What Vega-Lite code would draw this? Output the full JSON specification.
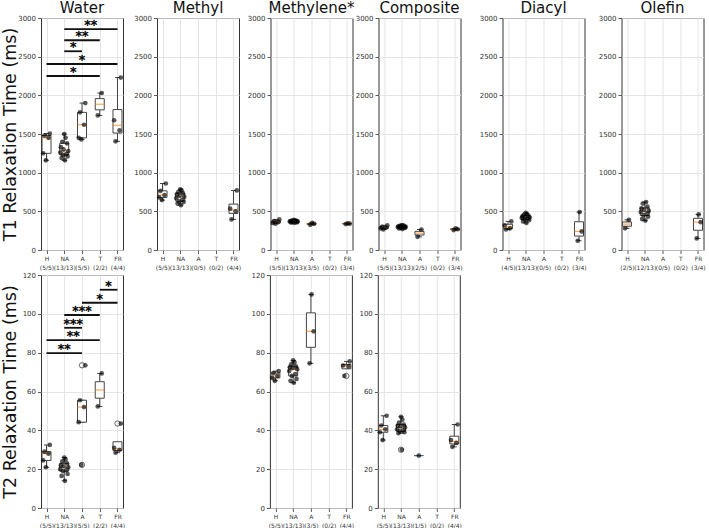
{
"$schema": "https://vega.github.io/schema/vega-lite/v6.json",
"padding": {"left": 0, "top": 0, "right": 0, "bottom": 0},
"background": "white",
"config": {
 "font": "DejaVu Sans",
 "view": {"stroke": "#333", "strokeWidth": 1},
 "axis": {"labelFont": "DejaVu Sans", "labelFontSize": 7, "labelColor": "#333", "tickColor": "#333", "tickSize": 3.5, "tickWidth": 0.8, "labelPadding": 2, "labelOverlap": false, "domain": false, "gridColor": "#dedede", "gridWidth": 0.8, "titleFont": "DejaVu Sans", "titleFontWeight": "normal", "titleColor": "#111"},
 "title": {"font": "DejaVu Sans", "fontSize": 15, "fontWeight": "normal", "color": "#111", "offset": -2}
},
"datasets": {
 "pts": [
  {"p":"W1","g":"H","v":1160,"r":5},{"p":"W1","g":"H","v":1250,"r":1},{"p":"W1","g":"H","v":1450,"r":9},{"p":"W1","g":"H","v":1480,"r":3},{"p":"W1","g":"H","v":1505,"r":11},
  {"p":"W1","g":"NA","v":1160,"r":7},{"p":"W1","g":"NA","v":1190,"r":2},{"p":"W1","g":"NA","v":1210,"r":11},{"p":"W1","g":"NA","v":1230,"r":4},{"p":"W1","g":"NA","v":1240,"r":9},{"p":"W1","g":"NA","v":1260,"r":0},{"p":"W1","g":"NA","v":1280,"r":12},{"p":"W1","g":"NA","v":1300,"r":5},{"p":"W1","g":"NA","v":1330,"r":1},{"p":"W1","g":"NA","v":1380,"r":10},{"p":"W1","g":"NA","v":1400,"r":3},{"p":"W1","g":"NA","v":1450,"r":8},{"p":"W1","g":"NA","v":1500,"r":6},
  {"p":"W1","g":"A","v":1430,"r":5},{"p":"W1","g":"A","v":1450,"r":1},{"p":"W1","g":"A","v":1620,"r":9},{"p":"W1","g":"A","v":1780,"r":3},{"p":"W1","g":"A","v":1900,"r":11},
  {"p":"W1","g":"T","v":1740,"r":3},{"p":"W1","g":"T","v":2030,"r":9},
  {"p":"W1","g":"FR","v":1405,"r":3},{"p":"W1","g":"FR","v":1548,"r":9},{"p":"W1","g":"FR","v":1678,"r":1},{"p":"W1","g":"FR","v":2230,"r":11},

  {"p":"M1","g":"H","v":645,"r":5},{"p":"M1","g":"H","v":680,"r":1},{"p":"M1","g":"H","v":710,"r":9},{"p":"M1","g":"H","v":765,"r":3},{"p":"M1","g":"H","v":860,"r":11},
  {"p":"M1","g":"NA","v":580,"r":7},{"p":"M1","g":"NA","v":600,"r":2},{"p":"M1","g":"NA","v":620,"r":11},{"p":"M1","g":"NA","v":630,"r":4},{"p":"M1","g":"NA","v":650,"r":9},{"p":"M1","g":"NA","v":670,"r":0},{"p":"M1","g":"NA","v":690,"r":12},{"p":"M1","g":"NA","v":700,"r":5},{"p":"M1","g":"NA","v":720,"r":1},{"p":"M1","g":"NA","v":735,"r":10},{"p":"M1","g":"NA","v":750,"r":3},{"p":"M1","g":"NA","v":770,"r":8},{"p":"M1","g":"NA","v":785,"r":6},
  {"p":"M1","g":"FR","v":395,"r":3},{"p":"M1","g":"FR","v":500,"r":9},{"p":"M1","g":"FR","v":535,"r":1},{"p":"M1","g":"FR","v":770,"r":11},

  {"p":"L1","g":"H","v":340,"r":5},{"p":"L1","g":"H","v":350,"r":1},{"p":"L1","g":"H","v":360,"r":9},{"p":"L1","g":"H","v":375,"r":3},{"p":"L1","g":"H","v":395,"r":11},
  {"p":"L1","g":"NA","v":350,"r":7},{"p":"L1","g":"NA","v":355,"r":2},{"p":"L1","g":"NA","v":358,"r":11},{"p":"L1","g":"NA","v":362,"r":4},{"p":"L1","g":"NA","v":365,"r":9},{"p":"L1","g":"NA","v":368,"r":0},{"p":"L1","g":"NA","v":370,"r":12},{"p":"L1","g":"NA","v":372,"r":5},{"p":"L1","g":"NA","v":375,"r":1},{"p":"L1","g":"NA","v":378,"r":10},{"p":"L1","g":"NA","v":380,"r":3},{"p":"L1","g":"NA","v":385,"r":8},{"p":"L1","g":"NA","v":390,"r":6},
  {"p":"L1","g":"A","v":325,"r":4},{"p":"L1","g":"A","v":338,"r":10},{"p":"L1","g":"A","v":350,"r":7},
  {"p":"L1","g":"FR","v":335,"r":4},{"p":"L1","g":"FR","v":340,"r":10},{"p":"L1","g":"FR","v":345,"r":7},

  {"p":"C1","g":"H","v":265,"r":5},{"p":"C1","g":"H","v":280,"r":1},{"p":"C1","g":"H","v":290,"r":9},{"p":"C1","g":"H","v":300,"r":3},{"p":"C1","g":"H","v":320,"r":11},
  {"p":"C1","g":"NA","v":270,"r":7},{"p":"C1","g":"NA","v":278,"r":2},{"p":"C1","g":"NA","v":285,"r":11},{"p":"C1","g":"NA","v":290,"r":4},{"p":"C1","g":"NA","v":292,"r":9},{"p":"C1","g":"NA","v":296,"r":0},{"p":"C1","g":"NA","v":300,"r":12},{"p":"C1","g":"NA","v":302,"r":5},{"p":"C1","g":"NA","v":305,"r":1},{"p":"C1","g":"NA","v":310,"r":10},{"p":"C1","g":"NA","v":312,"r":3},{"p":"C1","g":"NA","v":318,"r":8},{"p":"C1","g":"NA","v":322,"r":6},
  {"p":"C1","g":"A","v":170,"r":3},{"p":"C1","g":"A","v":265,"r":9},
  {"p":"C1","g":"FR","v":258,"r":4},{"p":"C1","g":"FR","v":268,"r":10},{"p":"C1","g":"FR","v":280,"r":7},

  {"p":"D1","g":"H","v":265,"r":3},{"p":"D1","g":"H","v":280,"r":9},{"p":"D1","g":"H","v":320,"r":1},{"p":"D1","g":"H","v":370,"r":11},
  {"p":"D1","g":"NA","v":350,"r":7},{"p":"D1","g":"NA","v":370,"r":2},{"p":"D1","g":"NA","v":385,"r":11},{"p":"D1","g":"NA","v":395,"r":4},{"p":"D1","g":"NA","v":405,"r":9},{"p":"D1","g":"NA","v":415,"r":0},{"p":"D1","g":"NA","v":420,"r":12},{"p":"D1","g":"NA","v":425,"r":5},{"p":"D1","g":"NA","v":435,"r":1},{"p":"D1","g":"NA","v":445,"r":10},{"p":"D1","g":"NA","v":455,"r":3},{"p":"D1","g":"NA","v":465,"r":8},{"p":"D1","g":"NA","v":480,"r":6},
  {"p":"D1","g":"FR","v":120,"r":4},{"p":"D1","g":"FR","v":240,"r":10},{"p":"D1","g":"FR","v":490,"r":7},

  {"p":"O1","g":"H","v":280,"r":3},{"p":"O1","g":"H","v":390,"r":9},
  {"p":"O1","g":"NA","v":380,"r":7},{"p":"O1","g":"NA","v":400,"r":2},{"p":"O1","g":"NA","v":430,"r":11},{"p":"O1","g":"NA","v":450,"r":4},{"p":"O1","g":"NA","v":470,"r":9},{"p":"O1","g":"NA","v":490,"r":0},{"p":"O1","g":"NA","v":505,"r":12},{"p":"O1","g":"NA","v":520,"r":5},{"p":"O1","g":"NA","v":540,"r":1},{"p":"O1","g":"NA","v":560,"r":10},{"p":"O1","g":"NA","v":600,"r":3},{"p":"O1","g":"NA","v":620,"r":8},
  {"p":"O1","g":"FR","v":150,"r":4},{"p":"O1","g":"FR","v":360,"r":10},{"p":"O1","g":"FR","v":460,"r":7},

  {"p":"W2","g":"H","v":21,"r":5},{"p":"W2","g":"H","v":24.5,"r":1},{"p":"W2","g":"H","v":28,"r":9},{"p":"W2","g":"H","v":29,"r":3},{"p":"W2","g":"H","v":32.5,"r":11},
  {"p":"W2","g":"NA","v":14,"r":7},{"p":"W2","g":"NA","v":16.5,"r":2},{"p":"W2","g":"NA","v":17.5,"r":11},{"p":"W2","g":"NA","v":19,"r":4},{"p":"W2","g":"NA","v":19.5,"r":9},{"p":"W2","g":"NA","v":20,"r":0},{"p":"W2","g":"NA","v":21,"r":12},{"p":"W2","g":"NA","v":21.5,"r":5},{"p":"W2","g":"NA","v":22,"r":1},{"p":"W2","g":"NA","v":23,"r":10},{"p":"W2","g":"NA","v":24,"r":3},{"p":"W2","g":"NA","v":25,"r":8},{"p":"W2","g":"NA","v":26,"r":6},
  {"p":"W2","g":"A","v":22.2,"r":5},{"p":"W2","g":"A","v":44.2,"r":1},{"p":"W2","g":"A","v":52,"r":9},{"p":"W2","g":"A","v":55.5,"r":3},{"p":"W2","g":"A","v":73.5,"r":11},
  {"p":"W2","g":"T","v":52.3,"r":3},{"p":"W2","g":"T","v":69.3,"r":9},
  {"p":"W2","g":"FR","v":28.5,"r":3},{"p":"W2","g":"FR","v":30,"r":9},{"p":"W2","g":"FR","v":31,"r":1},{"p":"W2","g":"FR","v":43.5,"r":11},

  {"p":"L2","g":"H","v":65.5,"r":5},{"p":"L2","g":"H","v":67,"r":1},{"p":"L2","g":"H","v":68,"r":9},{"p":"L2","g":"H","v":69.5,"r":3},{"p":"L2","g":"H","v":70.5,"r":11},
  {"p":"L2","g":"NA","v":64.5,"r":7},{"p":"L2","g":"NA","v":65.5,"r":2},{"p":"L2","g":"NA","v":66.5,"r":11},{"p":"L2","g":"NA","v":68,"r":4},{"p":"L2","g":"NA","v":69,"r":9},{"p":"L2","g":"NA","v":70.5,"r":0},{"p":"L2","g":"NA","v":71.5,"r":12},{"p":"L2","g":"NA","v":72,"r":5},{"p":"L2","g":"NA","v":72.5,"r":1},{"p":"L2","g":"NA","v":73,"r":10},{"p":"L2","g":"NA","v":74,"r":3},{"p":"L2","g":"NA","v":75,"r":8},{"p":"L2","g":"NA","v":76,"r":6},
  {"p":"L2","g":"A","v":74.5,"r":4},{"p":"L2","g":"A","v":91,"r":10},{"p":"L2","g":"A","v":110,"r":7},
  {"p":"L2","g":"FR","v":68,"r":3},{"p":"L2","g":"FR","v":72.9,"r":9},{"p":"L2","g":"FR","v":73.4,"r":1},{"p":"L2","g":"FR","v":75.5,"r":11},

  {"p":"C2","g":"H","v":35,"r":5},{"p":"C2","g":"H","v":39,"r":1},{"p":"C2","g":"H","v":40.5,"r":9},{"p":"C2","g":"H","v":42.5,"r":3},{"p":"C2","g":"H","v":47.5,"r":11},
  {"p":"C2","g":"NA","v":30,"r":7},{"p":"C2","g":"NA","v":38.5,"r":2},{"p":"C2","g":"NA","v":39,"r":11},{"p":"C2","g":"NA","v":39.5,"r":4},{"p":"C2","g":"NA","v":40,"r":9},{"p":"C2","g":"NA","v":40.5,"r":0},{"p":"C2","g":"NA","v":41.5,"r":12},{"p":"C2","g":"NA","v":42,"r":5},{"p":"C2","g":"NA","v":42.5,"r":1},{"p":"C2","g":"NA","v":43,"r":10},{"p":"C2","g":"NA","v":44,"r":3},{"p":"C2","g":"NA","v":45.5,"r":8},{"p":"C2","g":"NA","v":47,"r":6},
  {"p":"C2","g":"A","v":27,"r":6},
  {"p":"C2","g":"FR","v":31.5,"r":3},{"p":"C2","g":"FR","v":33.5,"r":9},{"p":"C2","g":"FR","v":35,"r":1},{"p":"C2","g":"FR","v":43,"r":11}
 ],
 "sig": [
  {"p":"W1","a":2,"b":5,"m":3.5,"v":2855,"s":"**"},
  {"p":"W1","a":2,"b":4,"m":3,"v":2712,"s":"**"},
  {"p":"W1","a":2,"b":3,"m":2.5,"v":2570,"s":"*"},
  {"p":"W1","a":1,"b":5,"m":3,"v":2405,"s":"*"},
  {"p":"W1","a":1,"b":4,"m":2.5,"v":2250,"s":"*"},
  {"p":"W2","a":4,"b":5,"m":4.5,"v":112.4,"s":"*"},
  {"p":"W2","a":3,"b":5,"m":4,"v":105.7,"s":"*"},
  {"p":"W2","a":2,"b":4,"m":3,"v":99.4,"s":"***"},
  {"p":"W2","a":2,"b":3,"m":2.5,"v":92.8,"s":"***"},
  {"p":"W2","a":1,"b":4,"m":2.5,"v":86.5,"s":"**"},
  {"p":"W2","a":1,"b":3,"m":2,"v":79.8,"s":"**"}
 ]
},
"vconcat": [
 {"spacing": 7, "hconcat": [
   {"width": 82, "height": 232, "title": "Water", "resolve": {"scale": {"x": "independent"}},
    "encoding": {
     "y": {"field": "v", "type": "quantitative", "scale": {"domain": [0, 3000], "nice": false}, "axis": {"values": [0,500,1000,1500,2000,2500,3000], "format": "d", "grid": true, "labelOverlap": false, "title": "T1 Relaxation Time (ms)", "titleFontSize": 17.5, "titlePadding": 1, "minExtent": 21, "maxExtent": 21}}
    },
    "layer": [
     {"data": {"name": "pts"}, "transform": [{"filter": "datum.p=='W1'"}],
      "encoding": {
       "x": {"field": "g", "type": "nominal", "scale": {"type": "point", "domain": ["H","NA","A","T","FR"], "padding": 0.31}, "axis": {"title": null, "labelAngle": 0, "grid": true, "labelFontSize": 6, "labelLineHeight": 8.5, "labelExpr": "[datum.label, ['(5/5)','(13/13)','(5/5)','(2/2)','(4/4)'][indexof(['H','NA','A','T','FR'], datum.label)]]"}}
      },
      "layer": [
       {"mark": {"type": "boxplot", "extent": 1.5, "size": 9, "box": {"fill": "white", "stroke": "#444", "strokeWidth": 1}, "median": {"color": "#ff7f0e", "thickness": 1.2}, "rule": {"color": "#444", "strokeWidth": 1}, "ticks": {"color": "#444", "size": 5}, "outliers": {"shape": "circle", "filled": false, "color": "#111", "size": 28, "strokeWidth": 0.9}}},
       {"mark": {"type": "circle", "color": "#000", "opacity": 0.65, "size": 22}, "encoding": {"xOffset": {"field": "r", "type": "quantitative", "scale": {"domain": [0, 12], "range": [-4, 4]}}}}
      ]},
     {"data": {"name": "sig"}, "transform": [{"filter": "datum.p=='W1'"}],
      "mark": {"type": "rule", "color": "#111", "strokeWidth": 1.8},
      "encoding": {"x": {"field": "a", "type": "quantitative", "scale": {"domain": [0.69, 5.31], "nice": false, "zero": false}, "axis": null}, "x2": {"field": "b"}}},
     {"data": {"name": "sig"}, "transform": [{"filter": "datum.p=='W1'"}],
      "mark": {"type": "text", "fontSize": 13, "font": "DejaVu Sans", "baseline": "alphabetic", "color": "#000", "stroke": "#000", "strokeWidth": 0.4},
      "encoding": {"x": {"field": "m", "type": "quantitative", "scale": {"domain": [0.69, 5.31], "nice": false, "zero": false}, "axis": null}, "text": {"field": "s"}}}
    ]},
   {"spacing": 4.5, "hconcat": [
   {"width": 82, "height": 232, "title": "Methyl", "data": {"name": "pts"}, "transform": [{"filter": "datum.p=='M1'"}],
    "encoding": {
     "x": {"field": "g", "type": "nominal", "scale": {"type": "point", "domain": ["H","NA","A","T","FR"], "padding": 0.31}, "axis": {"title": null, "labelAngle": 0, "grid": true, "labelFontSize": 6, "labelLineHeight": 8.5, "labelExpr": "[datum.label, ['(5/5)','(13/13)','(0/5)','(0/2)','(4/4)'][indexof(['H','NA','A','T','FR'], datum.label)]]"}},
     "y": {"field": "v", "type": "quantitative", "scale": {"domain": [0, 3000], "nice": false}, "axis": {"values": [0,500,1000,1500,2000,2500,3000], "format": "d", "grid": true, "title": null}}
    },
    "layer": [
     {"mark": {"type": "boxplot", "extent": 1.5, "size": 9, "box": {"fill": "white", "stroke": "#444", "strokeWidth": 1}, "median": {"color": "#ff7f0e", "thickness": 1.2}, "rule": {"color": "#444", "strokeWidth": 1}, "ticks": {"color": "#444", "size": 5}, "outliers": {"shape": "circle", "filled": false, "color": "#111", "size": 28, "strokeWidth": 0.9}}},
     {"mark": {"type": "circle", "color": "#000", "opacity": 0.65, "size": 22}, "encoding": {"xOffset": {"field": "r", "type": "quantitative", "scale": {"domain": [0, 12], "range": [-4, 4]}}}}
    ]},
   {"spacing": -1, "hconcat": [
   {"width": 82, "height": 232, "title": "Methylene*", "data": {"name": "pts"}, "transform": [{"filter": "datum.p=='L1'"}],
    "encoding": {
     "x": {"field": "g", "type": "nominal", "scale": {"type": "point", "domain": ["H","NA","A","T","FR"], "padding": 0.31}, "axis": {"title": null, "labelAngle": 0, "grid": true, "labelFontSize": 6, "labelLineHeight": 8.5, "labelExpr": "[datum.label, ['(5/5)','(13/13)','(3/5)','(0/2)','(3/4)'][indexof(['H','NA','A','T','FR'], datum.label)]]"}},
     "y": {"field": "v", "type": "quantitative", "scale": {"domain": [0, 3000], "nice": false}, "axis": {"values": [0,500,1000,1500,2000,2500,3000], "format": "d", "grid": true, "title": null}}
    },
    "layer": [
     {"mark": {"type": "boxplot", "extent": 1.5, "size": 9, "box": {"fill": "white", "stroke": "#444", "strokeWidth": 1}, "median": {"color": "#ff7f0e", "thickness": 1.2}, "rule": {"color": "#444", "strokeWidth": 1}, "ticks": {"color": "#444", "size": 5}, "outliers": {"shape": "circle", "filled": false, "color": "#111", "size": 28, "strokeWidth": 0.9}}},
     {"mark": {"type": "circle", "color": "#000", "opacity": 0.65, "size": 22}, "encoding": {"xOffset": {"field": "r", "type": "quantitative", "scale": {"domain": [0, 12], "range": [-4, 4]}}}}
    ]},
   {"spacing": 15, "hconcat": [
   {"width": 82, "height": 232, "title": "Composite", "data": {"name": "pts"}, "transform": [{"filter": "datum.p=='C1'"}],
    "encoding": {
     "x": {"field": "g", "type": "nominal", "scale": {"type": "point", "domain": ["H","NA","A","T","FR"], "padding": 0.31}, "axis": {"title": null, "labelAngle": 0, "grid": true, "labelFontSize": 6, "labelLineHeight": 8.5, "labelExpr": "[datum.label, ['(5/5)','(13/13)','(2/5)','(0/2)','(3/4)'][indexof(['H','NA','A','T','FR'], datum.label)]]"}},
     "y": {"field": "v", "type": "quantitative", "scale": {"domain": [0, 3000], "nice": false}, "axis": {"values": [0,500,1000,1500,2000,2500,3000], "format": "d", "grid": true, "title": null}}
    },
    "layer": [
     {"mark": {"type": "boxplot", "extent": 1.5, "size": 9, "box": {"fill": "white", "stroke": "#444", "strokeWidth": 1}, "median": {"color": "#ff7f0e", "thickness": 1.2}, "rule": {"color": "#444", "strokeWidth": 1}, "ticks": {"color": "#444", "size": 5}, "outliers": {"shape": "circle", "filled": false, "color": "#111", "size": 28, "strokeWidth": 0.9}}},
     {"mark": {"type": "circle", "color": "#000", "opacity": 0.65, "size": 22}, "encoding": {"xOffset": {"field": "r", "type": "quantitative", "scale": {"domain": [0, 12], "range": [-4, 4]}}}}
    ]},
   {"spacing": 10, "hconcat": [
    {"width": 82, "height": 232, "title": "Diacyl", "data": {"name": "pts"}, "transform": [{"filter": "datum.p=='D1'"}],
     "encoding": {
      "x": {"field": "g", "type": "nominal", "scale": {"type": "point", "domain": ["H","NA","A","T","FR"], "padding": 0.31}, "axis": {"title": null, "labelAngle": 0, "grid": true, "labelFontSize": 6, "labelLineHeight": 8.5, "labelExpr": "[datum.label, ['(4/5)','(13/13)','(0/5)','(0/2)','(3/4)'][indexof(['H','NA','A','T','FR'], datum.label)]]"}},
      "y": {"field": "v", "type": "quantitative", "scale": {"domain": [0, 3000], "nice": false}, "axis": {"values": [0,500,1000,1500,2000,2500,3000], "format": "d", "grid": true, "title": null}}
     },
     "layer": [
      {"mark": {"type": "boxplot", "extent": 1.5, "size": 9, "box": {"fill": "white", "stroke": "#444", "strokeWidth": 1}, "median": {"color": "#ff7f0e", "thickness": 1.2}, "rule": {"color": "#444", "strokeWidth": 1}, "ticks": {"color": "#444", "size": 5}, "outliers": {"shape": "circle", "filled": false, "color": "#111", "size": 28, "strokeWidth": 0.9}}},
      {"mark": {"type": "circle", "color": "#000", "opacity": 0.65, "size": 22}, "encoding": {"xOffset": {"field": "r", "type": "quantitative", "scale": {"domain": [0, 12], "range": [-4, 4]}}}}
     ]},
    {"width": 82, "height": 232, "title": "Olefin", "data": {"name": "pts"}, "transform": [{"filter": "datum.p=='O1'"}],
     "encoding": {
      "x": {"field": "g", "type": "nominal", "scale": {"type": "point", "domain": ["H","NA","A","T","FR"], "padding": 0.31}, "axis": {"title": null, "labelAngle": 0, "grid": true, "labelFontSize": 6, "labelLineHeight": 8.5, "labelExpr": "[datum.label, ['(2/5)','(12/13)','(0/5)','(0/2)','(3/4)'][indexof(['H','NA','A','T','FR'], datum.label)]]"}},
      "y": {"field": "v", "type": "quantitative", "scale": {"domain": [0, 3000], "nice": false}, "axis": {"values": [0,500,1000,1500,2000,2500,3000], "format": "d", "grid": true, "title": null}}
     },
     "layer": [
      {"mark": {"type": "boxplot", "extent": 1.5, "size": 9, "box": {"fill": "white", "stroke": "#444", "strokeWidth": 1}, "median": {"color": "#ff7f0e", "thickness": 1.2}, "rule": {"color": "#444", "strokeWidth": 1}, "ticks": {"color": "#444", "size": 5}, "outliers": {"shape": "circle", "filled": false, "color": "#111", "size": 28, "strokeWidth": 0.9}}},
      {"mark": {"type": "circle", "color": "#000", "opacity": 0.65, "size": 22}, "encoding": {"xOffset": {"field": "r", "type": "quantitative", "scale": {"domain": [0, 12], "range": [-4, 4]}}}}
     ]}
   ]}
   ]}
   ]}
   ]}
 ]},
 {"spacing": 123.9, "hconcat": [
   {"width": 82, "height": 233, "resolve": {"scale": {"x": "independent"}},
    "encoding": {
     "y": {"field": "v", "type": "quantitative", "scale": {"domain": [0, 120], "nice": false}, "axis": {"values": [0,20,40,60,80,100,120], "grid": true, "labelOverlap": false, "title": "T2 Relaxation Time (ms)", "titleFontSize": 17.5, "titlePadding": 1, "minExtent": 21, "maxExtent": 21}}
    },
    "layer": [
     {"data": {"name": "pts"}, "transform": [{"filter": "datum.p=='W2'"}],
      "encoding": {
       "x": {"field": "g", "type": "nominal", "scale": {"type": "point", "domain": ["H","NA","A","T","FR"], "padding": 0.31}, "axis": {"title": null, "labelAngle": 0, "grid": true, "labelFontSize": 6, "labelLineHeight": 8.5, "labelExpr": "[datum.label, ['(5/5)','(13/13)','(5/5)','(2/2)','(4/4)'][indexof(['H','NA','A','T','FR'], datum.label)]]"}}
      },
      "layer": [
       {"mark": {"type": "boxplot", "extent": 1.5, "size": 9, "box": {"fill": "white", "stroke": "#444", "strokeWidth": 1}, "median": {"color": "#ff7f0e", "thickness": 1.2}, "rule": {"color": "#444", "strokeWidth": 1}, "ticks": {"color": "#444", "size": 5}, "outliers": {"shape": "circle", "filled": false, "color": "#111", "size": 28, "strokeWidth": 0.9}}},
       {"mark": {"type": "circle", "color": "#000", "opacity": 0.65, "size": 22}, "encoding": {"xOffset": {"field": "r", "type": "quantitative", "scale": {"domain": [0, 12], "range": [-4, 4]}}}}
      ]},
     {"data": {"name": "sig"}, "transform": [{"filter": "datum.p=='W2'"}],
      "mark": {"type": "rule", "color": "#111", "strokeWidth": 1.8},
      "encoding": {"x": {"field": "a", "type": "quantitative", "scale": {"domain": [0.69, 5.31], "nice": false, "zero": false}, "axis": null}, "x2": {"field": "b"}}},
     {"data": {"name": "sig"}, "transform": [{"filter": "datum.p=='W2'"}],
      "mark": {"type": "text", "fontSize": 13, "font": "DejaVu Sans", "baseline": "alphabetic", "color": "#000", "stroke": "#000", "strokeWidth": 0.4},
      "encoding": {"x": {"field": "m", "type": "quantitative", "scale": {"domain": [0.69, 5.31], "nice": false, "zero": false}, "axis": null}, "text": {"field": "s"}}}
    ]},
   {"spacing": 2.9, "hconcat": [
    {"width": 82, "height": 233, "data": {"name": "pts"}, "transform": [{"filter": "datum.p=='L2'"}],
     "encoding": {
      "x": {"field": "g", "type": "nominal", "scale": {"type": "point", "domain": ["H","NA","A","T","FR"], "padding": 0.31}, "axis": {"title": null, "labelAngle": 0, "grid": true, "labelFontSize": 6, "labelLineHeight": 8.5, "labelExpr": "[datum.label, ['(5/5)','(13/13)','(3/5)','(0/2)','(4/4)'][indexof(['H','NA','A','T','FR'], datum.label)]]"}},
      "y": {"field": "v", "type": "quantitative", "scale": {"domain": [0, 120], "nice": false}, "axis": {"values": [0,20,40,60,80,100,120], "grid": true, "title": null}}
     },
     "layer": [
      {"mark": {"type": "boxplot", "extent": 1.5, "size": 9, "box": {"fill": "white", "stroke": "#444", "strokeWidth": 1}, "median": {"color": "#ff7f0e", "thickness": 1.2}, "rule": {"color": "#444", "strokeWidth": 1}, "ticks": {"color": "#444", "size": 5}, "outliers": {"shape": "circle", "filled": false, "color": "#111", "size": 28, "strokeWidth": 0.9}}},
      {"mark": {"type": "circle", "color": "#000", "opacity": 0.65, "size": 22}, "encoding": {"xOffset": {"field": "r", "type": "quantitative", "scale": {"domain": [0, 12], "range": [-4, 4]}}}}
     ]},
    {"width": 82, "height": 233, "data": {"name": "pts"}, "transform": [{"filter": "datum.p=='C2'"}],
     "encoding": {
      "x": {"field": "g", "type": "nominal", "scale": {"type": "point", "domain": ["H","NA","A","T","FR"], "padding": 0.31}, "axis": {"title": null, "labelAngle": 0, "grid": true, "labelFontSize": 6, "labelLineHeight": 8.5, "labelExpr": "[datum.label, ['(5/5)','(13/13)','(1/5)','(0/2)','(4/4)'][indexof(['H','NA','A','T','FR'], datum.label)]]"}},
      "y": {"field": "v", "type": "quantitative", "scale": {"domain": [0, 120], "nice": false}, "axis": {"values": [0,20,40,60,80,100,120], "grid": true, "title": null}}
     },
     "layer": [
      {"mark": {"type": "boxplot", "extent": 1.5, "size": 9, "box": {"fill": "white", "stroke": "#444", "strokeWidth": 1}, "median": {"color": "#ff7f0e", "thickness": 1.2}, "rule": {"color": "#444", "strokeWidth": 1}, "ticks": {"color": "#444", "size": 5}, "outliers": {"shape": "circle", "filled": false, "color": "#111", "size": 28, "strokeWidth": 0.9}}},
      {"mark": {"type": "circle", "color": "#000", "opacity": 0.65, "size": 22}, "encoding": {"xOffset": {"field": "r", "type": "quantitative", "scale": {"domain": [0, 12], "range": [-4, 4]}}}}
     ]}
   ]}
 ]}
],
"spacing": -1
}
